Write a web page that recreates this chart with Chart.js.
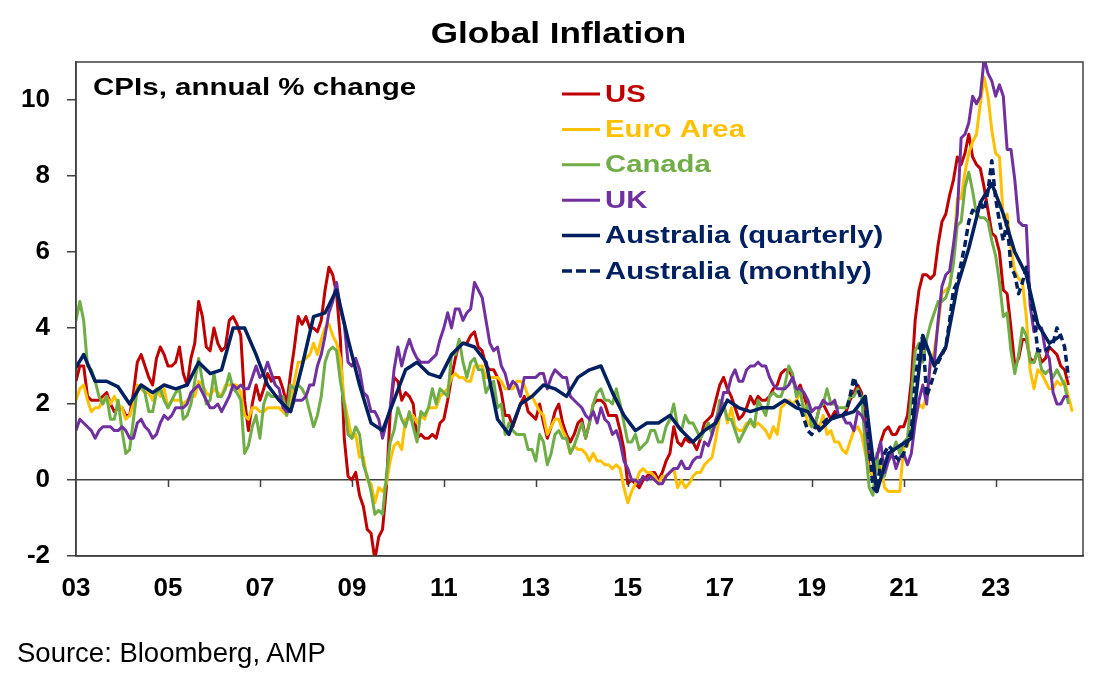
<!DOCTYPE html>
<html>
<head>
<meta charset="utf-8">
<title>Global Inflation</title>
<script src="https://cdn.jsdelivr.net/npm/chart.js@4.4.1/dist/chart.umd.min.js"></script>
<style>
  html, body { margin: 0; padding: 0; background: #fff; }
  #wrap { position: relative; width: 1107px; height: 686px; overflow: hidden;
          font-family: "Liberation Sans", Arial, sans-serif; color: #000; }
  #chart { position: absolute; left: 0; top: 0; }
  #title { position: absolute; left: 0; top: 18px; width: 1117px; text-align: center;
           font-weight: bold; font-size: 30px; line-height: 30px; transform: scaleX(1.17); }
  #source { position: absolute; left: 17px; top: 639px; font-size: 27.5px; line-height: 27.5px; }
</style>
</head>
<body>
<div id="wrap">
  <canvas id="chart" width="1107" height="686"></canvas>
  <div id="title">Global Inflation</div>
  <div id="source">Source: Bloomberg, AMP</div>
</div>
<script>
// ---- data (annual % change), monthly series start Jan 2003 ----
const usCpi = [
  2.6, 3.0, 3.0, 2.2, 2.1, 2.1, 2.1, 2.2, 2.3, 2.0, 1.8, 1.9,
  1.9, 1.7, 1.7, 2.3, 3.1, 3.3, 3.0, 2.7, 2.5, 3.2, 3.5, 3.3,
  3.0, 3.0, 3.1, 3.5, 2.8, 2.5, 3.2, 3.6, 4.7, 4.3, 3.5, 3.4,
  4.0, 3.6, 3.4, 3.5, 4.2, 4.3, 4.1, 3.8, 2.1, 1.3, 2.0, 2.5,
  2.1, 2.4, 2.8, 2.6, 2.7, 2.7, 2.4, 2.0, 2.8, 3.5, 4.3, 4.1,
  4.3, 4.0, 4.0, 3.9, 4.2, 5.0, 5.6, 5.4, 4.9, 3.7, 1.1, 0.1,
  0.0, 0.2, -0.4, -0.7, -1.3, -1.4, -2.1, -1.5, -1.3, -0.2, 1.8, 2.7,
  2.6, 2.1, 2.3, 2.2, 2.0, 1.1, 1.2, 1.1, 1.1, 1.2, 1.1, 1.5,
  1.6, 2.1, 2.7, 3.2, 3.6, 3.6, 3.6, 3.8, 3.9, 3.5, 3.4, 3.0,
  2.9, 2.9, 2.7, 2.3, 1.7, 1.7, 1.4, 1.7, 2.0, 2.2, 1.8, 1.7,
  1.6, 2.0, 1.5, 1.1, 1.4, 1.8, 2.0, 1.5, 1.2, 1.0, 1.2, 1.5,
  1.6, 1.1, 1.5, 2.0, 2.1, 2.1, 2.0, 1.7, 1.7, 1.7, 1.3, 0.8,
  -0.1, 0.0, -0.1, -0.2, 0.0, 0.1, 0.2, 0.2, 0.0, 0.2, 0.5, 0.7,
  1.4, 1.0, 0.9, 1.1, 1.0, 1.0, 0.8, 1.1, 1.5, 1.6, 1.7, 2.1,
  2.5, 2.7, 2.4, 2.2, 1.9, 1.6, 1.7, 1.9, 2.2, 2.0, 2.2, 2.1,
  2.1, 2.2, 2.4, 2.5, 2.8, 2.9, 2.9, 2.7, 2.3, 2.5, 2.2, 1.9,
  1.6, 1.5, 1.9, 2.0, 1.8, 1.6, 1.8, 1.7, 1.7, 1.8, 2.1, 2.3,
  2.5, 2.3, 1.5, 0.3, 0.1, 0.6, 1.0, 1.3, 1.4, 1.2, 1.2, 1.4,
  1.4, 1.7, 2.6, 4.2, 5.0, 5.4, 5.4, 5.3, 5.4, 6.2, 6.8, 7.0,
  7.5, 7.9, 8.5, 8.3, 8.6, 9.1, 8.5, 8.3, 8.2, 7.7, 7.1, 6.5,
  6.4, 6.0, 5.0, 4.9, 4.0, 3.0, 3.2, 3.7, 3.7, 3.2, 3.1, 3.4,
  3.1, 3.2, 3.5, 3.4, 3.3, 3.0, 2.9, 2.5
];

const euroCpi = [
  2.1, 2.4, 2.5, 2.1, 1.8, 1.9, 1.9, 2.1, 2.2, 2.0, 2.2, 2.0,
  1.9, 1.6, 1.7, 2.0, 2.5, 2.4, 2.3, 2.3, 2.1, 2.4, 2.2, 2.4,
  1.9, 2.1, 2.1, 2.1, 2.0, 2.1, 2.2, 2.2, 2.6, 2.5, 2.3, 2.2,
  2.4, 2.3, 2.2, 2.5, 2.5, 2.5, 2.5, 2.3, 1.7, 1.6, 1.9, 1.9,
  1.8, 1.8, 1.9, 1.9, 1.9, 1.9, 1.8, 1.7, 2.1, 2.6, 3.1, 3.1,
  3.2, 3.3, 3.6, 3.3, 3.7, 4.0, 4.1, 3.8, 3.6, 3.2, 2.1, 1.6,
  1.1, 1.2, 0.6, 0.6, 0.0, -0.1, -0.6, -0.2, -0.3, -0.1, 0.5, 0.9,
  1.0, 0.8, 1.6, 1.6, 1.7, 1.5, 1.7, 1.6, 1.9, 1.9, 1.9, 2.2,
  2.3, 2.4, 2.7, 2.8, 2.7, 2.7, 2.6, 2.6, 3.0, 3.0, 3.0, 2.7,
  2.7, 2.7, 2.7, 2.6, 2.4, 2.4, 2.4, 2.6, 2.6, 2.5, 2.2, 2.2,
  2.0, 1.8, 1.7, 1.2, 1.4, 1.6, 1.6, 1.3, 1.1, 0.7, 0.9, 0.8,
  0.8, 0.7, 0.5, 0.7, 0.5, 0.5, 0.4, 0.4, 0.3, 0.4, 0.3, -0.2,
  -0.6, -0.3, -0.1, 0.2, 0.3, 0.2, 0.2, 0.1, -0.1, 0.1, 0.1, 0.2,
  0.3, -0.2, 0.0, -0.2, -0.1, 0.1, 0.2, 0.2, 0.4, 0.5, 0.6, 1.1,
  1.7, 2.0, 1.5, 1.9, 1.4, 1.3, 1.3, 1.5, 1.5, 1.4, 1.5, 1.4,
  1.3, 1.1, 1.4, 1.2, 1.9, 2.0, 2.1, 2.0, 2.1, 2.3, 1.9, 1.5,
  1.4, 1.5, 1.4, 1.7, 1.2, 1.3, 1.0, 1.0, 0.8, 0.7, 1.0, 1.3,
  1.4, 1.2, 0.7, 0.3, 0.1, 0.3, 0.4, -0.2, -0.3, -0.3, -0.3, -0.3,
  0.9, 0.9, 1.3, 1.6, 2.0, 1.9, 2.2, 3.0, 3.4, 4.1, 4.9, 5.0,
  5.1, 5.9, 7.4, 7.4, 8.1, 8.6, 8.9, 9.1, 9.9, 10.6, 10.1, 9.2,
  8.6, 8.5, 6.9, 7.0, 6.1, 5.5, 5.3, 5.2, 4.3, 2.9, 2.4, 2.9,
  2.8, 2.6, 2.4, 2.4, 2.6, 2.5, 2.6, 2.2, 1.8
];

const canadaCpi = [
  4.2, 4.7, 4.2, 3.0, 2.9, 2.6, 2.2, 2.0, 2.2, 1.6, 1.6, 2.1,
  1.3, 0.7, 0.8, 1.6, 2.4, 2.5, 2.3, 1.8, 1.8, 2.3, 2.4, 2.1,
  1.9, 2.1, 2.3, 2.4, 1.6, 1.7, 2.0, 2.6, 3.2, 2.6, 2.0, 2.1,
  2.8, 2.2, 2.2, 2.4, 2.8, 2.4, 2.3, 2.1, 0.7, 0.9, 1.4, 1.7,
  1.1, 2.0, 2.3, 2.2, 2.2, 2.2, 2.2, 1.7, 2.5, 2.4, 2.5, 2.4,
  2.2, 1.8, 1.4, 1.7, 2.2, 3.1, 3.4, 3.5, 3.4, 2.6, 2.0, 1.2,
  1.1, 1.4, 1.2, 0.4, 0.1, -0.3, -0.9, -0.8, -0.9, 0.1, 1.0, 1.3,
  1.9, 1.6, 1.4, 1.8, 1.4, 1.0, 1.8, 1.7, 1.9, 2.4, 2.0, 2.4,
  2.3, 2.2, 3.3, 3.3, 3.7, 3.1, 2.7, 3.1, 3.2, 2.9, 2.9, 2.3,
  2.5, 2.6, 1.9, 2.0, 1.2, 1.5, 1.3, 1.2, 1.2, 1.2, 0.8, 0.8,
  0.5, 1.2, 1.0, 0.4, 0.7, 1.2, 1.3, 1.1, 1.1, 0.7, 0.9, 1.2,
  1.5, 1.1, 1.5, 2.0, 2.3, 2.4, 2.1, 2.1, 2.0, 2.4, 2.0, 1.5,
  1.0, 1.0, 1.2, 0.8, 0.9, 1.0, 1.3, 1.3, 1.0, 1.0, 1.4, 1.6,
  2.0, 1.4, 1.3, 1.7, 1.5, 1.5, 1.3, 1.1, 1.3, 1.5, 1.2, 1.5,
  2.1, 2.0, 1.6, 1.6, 1.3, 1.0, 1.2, 1.4, 1.6, 1.4, 2.1, 1.9,
  1.7, 2.2, 2.3, 2.2, 2.2, 2.5, 3.0, 2.8, 2.2, 2.4, 1.7, 2.0,
  1.4, 1.5, 1.9, 2.0, 2.4, 2.0, 2.0, 1.9, 1.9, 1.9, 2.2, 2.2,
  2.4, 2.2, 0.9, -0.2, -0.4, 0.7, 0.1, 0.1, 0.5, 0.7, 1.0, 0.7,
  1.0, 1.1, 2.2, 3.4, 3.6, 3.1, 3.7, 4.1, 4.4, 4.7, 4.7, 4.8,
  5.1, 5.7, 6.7, 6.8, 7.7, 8.1, 7.6, 7.0, 6.9, 6.9, 6.8, 6.3,
  5.9, 5.2, 4.3, 4.4, 3.4, 2.8, 3.3, 4.0, 3.8, 3.1, 3.1, 3.4,
  2.9, 2.8, 2.9, 2.7, 2.9, 2.7, 2.5, 2.0
];

const ukCpi = [
  1.3, 1.6, 1.5, 1.4, 1.3, 1.1, 1.3, 1.4, 1.4, 1.4, 1.3, 1.3,
  1.4, 1.3, 1.1, 1.1, 1.5, 1.6, 1.4, 1.3, 1.1, 1.2, 1.5, 1.7,
  1.6, 1.7, 1.9, 1.9, 1.9, 2.0, 2.3, 2.4, 2.5, 2.3, 2.1, 1.9,
  1.9, 2.0, 1.8, 2.0, 2.2, 2.5, 2.4, 2.5, 2.4, 2.4, 2.7, 3.0,
  2.7, 2.8, 3.1, 2.8, 2.5, 2.4, 1.9, 1.8, 1.8, 2.1, 2.1, 2.1,
  2.2, 2.5, 2.5, 3.0, 3.3, 3.8, 4.4, 4.7, 5.2, 4.5, 4.1, 3.1,
  3.0, 3.2, 2.9, 2.3, 2.2, 1.8, 1.8, 1.6, 1.1, 1.5, 1.9, 2.9,
  3.5, 3.0, 3.4, 3.7, 3.4, 3.2, 3.1, 3.1, 3.1, 3.2, 3.3, 3.7,
  4.0, 4.4, 4.0, 4.5, 4.5, 4.2, 4.4, 4.5, 5.2, 5.0, 4.8, 4.2,
  3.6, 3.4, 3.5, 3.0, 2.8, 2.4, 2.6, 2.5, 2.2, 2.7, 2.7, 2.7,
  2.7, 2.8, 2.8, 2.4, 2.7, 2.9, 2.8, 2.7, 2.7, 2.2, 2.1, 2.0,
  1.9, 1.7, 1.6, 1.8, 1.5, 1.9, 1.6, 1.5, 1.2, 1.3, 1.0, 0.5,
  0.3, 0.0, 0.0, -0.1, 0.1, 0.0, 0.1, 0.0, -0.1, -0.1, 0.1, 0.2,
  0.3, 0.3, 0.5, 0.3, 0.3, 0.5, 0.6, 0.6, 1.0, 0.9, 1.2, 1.6,
  1.8, 2.3, 2.3, 2.7, 2.9, 2.6, 2.6, 2.9, 3.0, 3.0, 3.1, 3.0,
  3.0, 2.7, 2.5, 2.4, 2.4, 2.4, 2.5, 2.7, 2.4, 2.4, 2.3, 2.1,
  1.8, 1.9, 1.9, 2.1, 2.0, 2.0, 2.1, 1.7, 1.7, 1.5, 1.5, 1.3,
  1.8, 1.7, 1.5, 0.8, 0.5, 0.6, 1.0, 0.2, 0.5, 0.7, 0.3, 0.6,
  0.7, 0.4, 0.7, 1.5, 2.1, 2.5, 2.0, 3.2, 3.1, 4.2, 5.1, 5.4,
  5.5, 6.2, 7.0, 9.0, 9.1, 9.4, 10.1, 9.9, 10.1, 11.1, 10.7, 10.5,
  10.1, 10.4, 10.1, 8.7, 8.7, 7.9, 6.8, 6.7, 6.7, 4.6, 3.9, 4.0,
  4.0, 3.4, 3.2, 2.3, 2.0, 2.0, 2.2, 2.2
];

// Australia quarterly, first value is Dec quarter 2002
const ausQuarterly = [
  2.8,
  3.3, 2.6, 2.6, 2.45,  2.0, 2.5, 2.3, 2.5,  2.4, 2.5, 3.1, 2.8,
  2.9, 4.0, 4.0, 3.3,   2.5, 2.1, 1.8, 3.0,  4.3, 4.4, 5.0, 3.7,
  2.5, 1.5, 1.3, 2.1,   2.9, 3.1, 2.8, 2.7,  3.3, 3.6, 3.5, 3.1,
  1.6, 1.2, 2.0, 2.2,   2.5, 2.4, 2.2, 2.7,  2.9, 3.0, 2.3, 1.7,
  1.3, 1.5, 1.5, 1.7,   1.3, 1.0, 1.3, 1.5,  2.1, 1.9, 1.8, 1.9,
  1.9, 2.1, 1.9, 1.8,   1.3, 1.6, 1.7, 1.8,  2.2, -0.3, 0.7, 0.9,
  1.1, 3.8, 3.0, 3.5,   5.1, 6.1, 7.3, 7.8,  7.0, 6.0, 5.4, 4.1,
  3.6, 3.8
];

// Australia monthly CPI indicator, first value is Sep 2018
const ausMonthly = [
  2.1, 1.9, 1.6, 1.3,
  1.2, 1.4, 1.4, 1.5, 1.6, 1.6, 1.7, 1.7, 1.7, 1.8, 2.2, 2.7,
  2.4, 2.1, 2.0, 0.9, -0.2, -0.3, 0.5, 0.7, 0.9, 0.8, 0.6, 0.5,
  0.7, 1.0, 1.3, 2.6, 3.4, 3.8, 2.2, 2.5, 2.8, 3.1, 3.3, 3.5,
  4.2, 5.0, 5.2, 5.7, 6.2, 6.8, 7.1, 7.0, 7.3, 7.1, 7.6, 8.4,
  7.4, 6.8, 6.3, 6.8, 5.6, 5.4, 4.9, 5.2, 5.6, 4.9, 4.3, 3.4,
  3.4, 3.4, 3.5, 3.6, 4.0, 3.8, 3.5, 2.7
];

const xTickYears = [2003, 2005, 2007, 2009, 2011, 2013, 2015, 2017, 2019, 2021, 2023];
const xTickLabels = ['03', '05', '07', '09', '11', '13', '15', '17', '19', '21', '23'];
const yTickValues = [-2, 0, 2, 4, 6, 8, 10];

const fontFamily = '"Liberation Sans", Arial, sans-serif';
const axisColor = '#404040';

// turn a list of values into {x, y} points on a decimal-year axis
function toPoints(values, startYear, startMonth, stepMonths) {
  return values.map((v, i) => ({
    x: startYear + (startMonth + i * stepMonths) / 12,
    y: v
  }));
}

function series(label, values, color, startYear, startMonth, step, extra) {
  return Object.assign({
    label: label,
    data: toPoints(values, startYear, startMonth, step),
    borderColor: color,
    backgroundColor: color,
    borderWidth: 3,
    pointRadius: 0,
    tension: 0,
    fill: false,
    clip: 0,
    borderJoinStyle: 'round'
  }, extra);
}

const datasets = [
  series('US', usCpi, '#C00000', 2003, 0, 1, {order: 6}),
  series('Euro Area', euroCpi, '#FFC000', 2003, 0, 1, {order: 5}),
  series('Canada', canadaCpi, '#70AD47', 2003, 0, 1, {order: 4}),
  series('UK', ukCpi, '#7030A0', 2003, 0, 1, {order: 3}),
  series('Australia (quarterly)', ausQuarterly, '#002060', 2002, 11, 3, {order: 1, borderWidth: 3.5}),
  series('Australia (monthly)', ausMonthly, '#002060', 2018, 8, 1,
    {order: 2, borderWidth: 3.5, borderDash: [7, 4], borderCapStyle: 'butt'})
];

// draws text stretched horizontally like the original artwork
function wideText(ctx, text, x, y, sx) {
  ctx.save();
  ctx.translate(x, y);
  ctx.scale(sx, 1);
  ctx.fillText(text, 0, 0);
  ctx.restore();
}

const framePlugin = {
  id: 'frame',
  afterDraw(chart) {
    const {ctx, chartArea: a, scales} = chart;
    ctx.save();
    ctx.strokeStyle = axisColor;
    ctx.lineWidth = 1.5;
    ctx.strokeRect(a.left, a.top, a.right - a.left, a.bottom - a.top);
    // little tick marks hanging below the zero line
    const y0 = scales.y.getPixelForValue(0);
    ctx.beginPath();
    xTickYears.slice(1).forEach(yr => {
      const px = Math.round(scales.x.getPixelForValue(yr)) + 0.5;
      ctx.moveTo(px, y0);
      ctx.lineTo(px, y0 + 7);
    });
    ctx.stroke();
    ctx.restore();
  }
};

const legendPlugin = {
  id: 'insideLegend',
  afterDraw(chart) {
    const {ctx, chartArea: a} = chart;
    ctx.save();
    ctx.font = 'bold 24px ' + fontFamily;
    ctx.textBaseline = 'alphabetic';
    ctx.fillStyle = '#000';
    wideText(ctx, 'CPIs, annual % change', a.left + 17, a.top + 33, 1.23);

    const lx = a.left + 486;
    chart.data.datasets.forEach((ds, i) => {
      const ly = a.top + 32 + i * 35.4;
      ctx.strokeStyle = ds.borderColor;
      ctx.lineWidth = ds.borderWidth;
      ctx.setLineDash(ds.borderDash ? [10, 4] : []);
      ctx.beginPath();
      ctx.moveTo(lx, ly);
      ctx.lineTo(lx + 38, ly);
      ctx.stroke();
      ctx.fillStyle = ds.borderColor;
      wideText(ctx, ds.label, lx + 43, ly + 7.5, 1.22);
    });
    ctx.restore();
  }
};

Chart.defaults.font.family = fontFamily;

new Chart(document.getElementById('chart'), {
  type: 'line',
  data: { datasets: datasets },
  plugins: [framePlugin, legendPlugin],
  options: {
    responsive: false,
    animation: false,
    layout: { padding: { top: 62, right: 24, left: 0, bottom: 0 } },
    plugins: {
      legend: { display: false },
      tooltip: { enabled: false },
      title: { display: false }
    },
    scales: {
      x: {
        type: 'linear',
        min: 2003,
        max: 2024.9,
        afterBuildTicks: axis => { axis.ticks = xTickYears.map(v => ({value: v})); },
        afterFit: axis => { axis.height = 130; },
        grid: { display: false, drawTicks: false },
        border: { display: true, color: axisColor, width: 1.5 },
        ticks: {
          autoSkip: false,
          maxRotation: 0,
          padding: 17,
          color: '#000',
          font: { size: 26, weight: 'bold' },
          callback: value => {
            const i = xTickYears.indexOf(value);
            return i >= 0 ? xTickLabels[i] : '';
          }
        }
      },
      y: {
        min: -2,
        max: 11,
        afterBuildTicks: axis => { axis.ticks = yTickValues.map(v => ({value: v})); },
        afterFit: axis => { axis.width = 76; },
        grid: {
          drawOnChartArea: true,
          color: c => (c.tick && c.tick.value === 0) ? axisColor : 'rgba(0,0,0,0)',
          tickColor: axisColor,
          tickLength: 9,
          lineWidth: 1.5
        },
        border: { display: true, color: axisColor, width: 1.5 },
        ticks: {
          padding: 17,
          color: '#000',
          font: { size: 26, weight: 'bold' },
          callback: value => String(value)
        }
      }
    }
  }
});
</script>
</body>
</html>
